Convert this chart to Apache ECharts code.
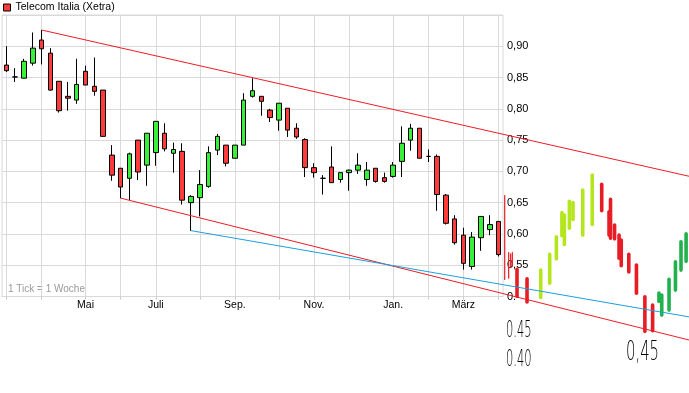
<!DOCTYPE html>
<html><head><meta charset="utf-8">
<script src="https://cdn.jsdelivr.net/npm/echarts@6/dist/echarts.min.js"></script>
<style>html,body{margin:0;padding:0;background:#fff}#c{width:689px;height:393px}</style>
</head><body><div id="c"></div>
<script>
// weekly categories
const weeks = ['2012-03-05','2012-03-12','2012-03-19','2012-03-26','2012-04-02','2012-04-09','2012-04-16','2012-04-23','2012-04-30',
  '2012-05-07','2012-05-14','2012-05-21','2012-05-28','2012-06-04','2012-06-11','2012-06-18','2012-06-25',
  '2012-07-02','2012-07-09','2012-07-16','2012-07-23','2012-07-30','2012-08-06','2012-08-13','2012-08-20','2012-08-27',
  '2012-09-03','2012-09-10','2012-09-17','2012-09-24','2012-10-01','2012-10-08','2012-10-15','2012-10-22','2012-10-29',
  '2012-11-05','2012-11-12','2012-11-19','2012-11-26','2012-12-03','2012-12-10','2012-12-17','2012-12-24','2012-12-31',
  '2013-01-07','2013-01-14','2013-01-21','2013-01-28','2013-02-04','2013-02-11','2013-02-18','2013-02-25',
  '2013-03-04','2013-03-11','2013-03-18','2013-03-25','2013-04-01'];
const opens  = [0.870,0.851,0.849,0.873,0.910,0.889,0.844,0.820,0.814,0.860,0.836,0.830,0.726,0.705,0.689,0.750,0.710,0.730,0.761,0.729,
  0.732,0.650,0.658,0.676,0.734,0.742,0.721,0.742,0.820,0.820,0.798,0.782,0.801,0.769,0.751,0.706,0.689,0.707,0.687,0.698,
  0.702,0.687,0.705,0.690,0.692,0.716,0.750,0.769,0.724,0.724,0.662,0.624,0.598,0.548,0.594,0.607,0.620];
const closes = [0.861,0.851,0.876,0.897,0.896,0.830,0.797,0.817,0.839,0.838,0.828,0.756,0.694,0.675,0.728,0.699,0.761,0.780,0.736,0.735,
  0.654,0.660,0.679,0.730,0.756,0.713,0.742,0.814,0.829,0.812,0.786,0.809,0.766,0.755,0.706,0.698,0.689,0.682,0.698,0.702,
  0.710,0.702,0.684,0.684,0.710,0.745,0.769,0.721,0.724,0.663,0.617,0.586,0.553,0.595,0.628,0.615,0.567];
const lows   = [0.859,0.843,0.849,0.869,0.871,0.829,0.794,0.797,0.808,0.838,0.821,0.755,0.685,0.657,0.654,0.686,0.677,0.709,0.732,0.698,
  0.647,0.605,0.628,0.674,0.726,0.708,0.721,0.742,0.818,0.789,0.779,0.765,0.755,0.752,0.691,0.690,0.663,0.682,0.682,0.669,
  0.696,0.677,0.682,0.682,0.690,0.691,0.733,0.721,0.715,0.637,0.615,0.583,0.543,0.543,0.573,0.598,0.564];
const highs  = [0.900,0.865,0.880,0.922,0.926,0.897,0.844,0.843,0.880,0.869,0.882,0.830,0.742,0.705,0.730,0.750,0.761,0.780,0.777,0.746,
  0.745,0.662,0.702,0.740,0.760,0.742,0.742,0.825,0.849,0.820,0.800,0.809,0.801,0.777,0.753,0.713,0.694,0.740,0.698,0.703,
  0.729,0.715,0.705,0.698,0.715,0.772,0.776,0.769,0.735,0.727,0.664,0.630,0.610,0.603,0.628,0.630,0.620];
// month grid lines / labels (week indices)
const monthGridIdx = [0,4,9,13,17,22,26,31,35,39,44,48,52,56];
const monthLabelIdx = [9,17,26,35,44,52];
const monthLabelText = ['Mai','Juli','Sep.','Nov.','Jan.','März'];
// trend lines [weekIndex, value]
const upperTrend  = [[4,0.926],[77.67,0.692]];
const lowerTrend  = [[13,0.657],[77.67,0.430]];
const supportLine = [[21,0.605],[77.67,0.467]];
// sketched projection strokes [weekIndex, low, high]
const sketchRed = [[58.10,0.497,0.546],[59.24,0.488,0.531],[67.74,0.634,0.682],[68.57,0.595,0.638],[68.74,0.590,0.658],
  [69.20,0.589,0.617],[69.71,0.558,0.601],[69.96,0.546,0.593],[70.82,0.536,0.570],[71.69,0.502,0.553],[72.65,0.441,0.502],[73.53,0.442,0.489]];
const sketchLime = [[60.80,0.495,0.545],[61.82,0.518,0.570],[62.58,0.557,0.598],[63.21,0.594,0.637],[63.49,0.580,0.633],
  [64.06,0.606,0.655],[64.47,0.620,0.653],[65.58,0.595,0.673],[66.66,0.612,0.697]];
const sketchGreen = [[74.25,0.489,0.508],[74.57,0.467,0.505],[75.40,0.475,0.530],[76.13,0.507,0.558],[76.76,0.539,0.590],[77.34,0.553,0.603]];
const sketchThin = [[56.70,0.526,0.662],[57.15,0.528,0.571],[57.38,0.545,0.569],[57.57,0.547,0.571]];

const candleData = opens.map((o,i)=>[o, closes[i], lows[i], highs[i]]);
const chart = echarts.init(document.getElementById('c'), null, {renderer:'canvas'});
const GRID_COLOR = '#d9d9d9';
const FONT = 'Liberation Sans, Arial, sans-serif';

function strokeSeries(data, color, width){
  return {
    type:'custom', xAxisIndex:1, yAxisIndex:1, z:5, silent:true,
    data: data,
    renderItem: function(params, api){
      const top = api.coord([api.value(0), api.value(2)]);
      const bot = api.coord([api.value(0), api.value(1)]);
      return {type:'rect', shape:{x: top[0]-width/2, y: top[1], width: width, height: bot[1]-top[1], r: width/2},
        style:{fill: color}};
    }
  };
}
function lineSeries(data, color){
  return {type:'line', xAxisIndex:1, yAxisIndex:1, z:6, silent:true, data:data, symbol:'none',
    lineStyle:{color:color, width:1}};
}

chart.setOption({
  animation:false,
  backgroundColor:'#fff',
  legend:{left:1, top:0, itemWidth:7, itemHeight:7, padding:[2,2],
    textStyle:{fontSize:10.5, fontFamily:FONT, color:'#000'},
    data:[{name:'Telecom Italia (Xetra)', icon:'rect', itemStyle:{color:'#ff3a3a', borderColor:'#000', borderWidth:1}}]},
  grid:[
    {left:2, right:186, top:15, bottom:96.5, show:true, borderColor:GRID_COLOR, borderWidth:1},
    {left:0, right:0, top:15, bottom:0, show:false}
  ],
  xAxis:[
    {type:'category', gridIndex:0, data:weeks, boundaryGap:true,
      axisLine:{show:true, lineStyle:{color:GRID_COLOR}},
      axisTick:{show:true, alignWithLabel:true, length:3, interval:(i)=>monthGridIdx.includes(i), lineStyle:{color:'#c8c8c8'}},
      splitLine:{show:true, alignWithLabel:true, interval:(i)=>monthGridIdx.includes(i), lineStyle:{color:GRID_COLOR}},
      axisLabel:{interval:0, margin:3, fontSize:10.5, fontFamily:FONT, color:'#000',
        formatter:(v,i)=>{const k = monthLabelIdx.indexOf(i); return k>=0 ? monthLabelText[k] : '';}}},
    {type:'value', gridIndex:1, min:-0.727, max:77.67, show:false}
  ],
  yAxis:[
    {type:'value', gridIndex:0, position:'right', min:0.5, max:0.95, interval:0.05,
      axisLine:{show:false}, axisTick:{show:false},
      splitLine:{show:true, lineStyle:{color:GRID_COLOR}},
      axisLabel:{margin:4, fontSize:11, fontFamily:FONT, color:'#000',
        formatter:(v)=>{ if (v>0.94) return ''; if (Math.abs(v-0.5)<1e-6) return '0.'; return v.toFixed(2).replace('.',','); }}},
    {type:'value', gridIndex:1, min:0.3452, max:0.95, show:false}
  ],
  graphic:[
    {type:'text', left:8, top:284, style:{text:'1 Tick = 1 Woche', font:'10px Liberation Sans', fill:'#9a9a9a'}},
    {type:'text', x:506, y:320, scaleX:0.5, style:{text:'0.45', font:'200 23px DejaVu Sans', fill:'#000'}, z:20},
    {type:'text', x:506, y:349, scaleX:0.5, style:{text:'0.40', font:'200 23px DejaVu Sans', fill:'#000'}, z:20},
    {type:'text', x:626, y:339, scaleX:0.55, style:{text:'0,45', font:'200 27px DejaVu Sans', fill:'#000'}, z:20}
  ],
  series:[
    {name:'Telecom Italia (Xetra)', type:'candlestick', xAxisIndex:0, yAxisIndex:0, data:candleData, barWidth:5,
      itemStyle:{color:'#37f037', color0:'#ff3a3a', borderColor:'#000', borderColor0:'#000', borderColorDoji:'#000', borderWidth:1}},
    lineSeries(upperTrend, '#ee1c25'),
    lineSeries(lowerTrend, '#ee1c25'),
    lineSeries(supportLine, '#1a9fe0'),
    strokeSeries(sketchThin, '#e81c24', 1.2),
    strokeSeries(sketchRed, '#e81c24', 3.6),
    strokeSeries(sketchLime, '#b5e61d', 3.6),
    strokeSeries(sketchGreen, '#22b14c', 3.6)
  ]
});
</script></body></html>
